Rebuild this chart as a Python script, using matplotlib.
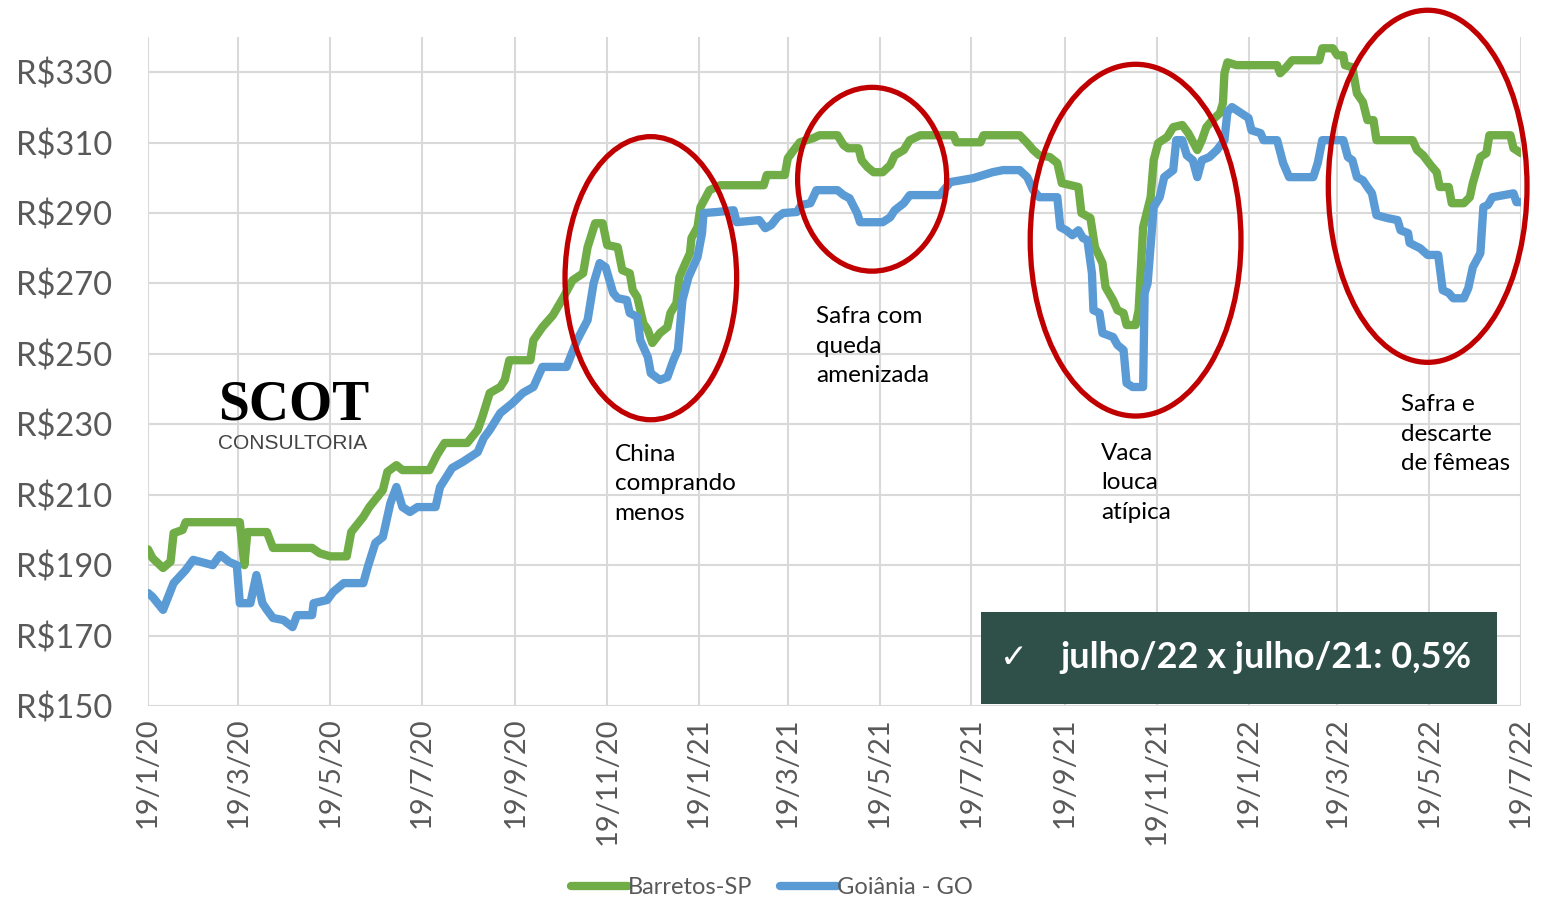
import numpy as np
import pandas as pd
import matplotlib
matplotlib.use("Agg")
from matplotlib import pyplot as plt
from matplotlib.patches import Ellipse, Rectangle
import matplotlib.dates as mdates

plt.rcParams['font.family'] = ['Lato', 'DejaVu Sans']

start = pd.Timestamp('2020-01-19')

green_days = [0, 3, 10, 15, 17, 23, 25, 61, 64, 66, 79, 83, 109, 114, 121, 132, 135, 143, 147,
              156, 159, 165, 169, 187, 192, 197, 212, 219, 222, 227, 234, 237, 240, 254, 256,
              262, 269, 276, 282, 289, 292, 297, 302, 305, 312, 315, 320, 322, 325, 329, 332,
              335, 340, 345, 347, 351, 353, 357, 360, 361, 365, 367, 373, 380, 409, 411, 423,
              425, 429, 433, 442, 446, 458, 462, 465, 472, 474, 478, 482, 488, 493, 496, 502,
              506, 513, 535, 537, 553, 555, 579, 584, 588, 592, 599, 604, 607, 618, 620, 626,
              629, 634, 636, 641, 644, 648, 650, 656, 658, 661, 666, 668, 671, 677, 681, 687,
              691, 697, 700, 703, 707, 712, 714, 715, 717, 723, 750, 752, 756, 760, 778, 780,
              787, 790, 794, 795, 800, 803, 807, 810, 814, 816, 840, 843, 847, 852, 856, 858,
              864, 866, 874, 878, 880, 885, 889, 891, 905, 907, 912]
green_values = [194.5, 192, 189.2, 191, 199.1, 200, 202.2, 202.2, 190, 199.4, 199.4, 194.9, 194.9,
                193.4, 192.5, 192.5, 199.4, 203.7, 206.5, 211.3, 216.5, 218.4, 217, 217, 221.3,
                224.7, 224.7, 228.4, 232, 238.9, 240.6, 242.6, 248.2, 248.2, 253.9, 257.6, 261,
                266.1, 270.9, 272.9, 280.3, 287.1, 287.1, 280.9, 280.3, 273.8, 272.9, 268.1,
                266.1, 258.7, 256.8, 253.1, 255.9, 257.6, 261.6, 264.4, 271.8, 275.8, 278.6,
                282.9, 286, 291.7, 296.5, 297.9, 297.9, 300.8, 300.8, 305.6, 307.9, 310.1, 311.3,
                312.1, 312.1, 309.3, 308.4, 308.4, 305, 303, 301.6, 301.6, 303.6, 306.4, 307.9,
                310.7, 312.1, 312.1, 310.1, 310.1, 312.1, 312.1, 309.9, 307.9, 306.4, 305.9,
                304.2, 298.5, 297.4, 290, 288.6, 280.3, 275.8, 269, 265.3, 262.4, 261.6, 258.2,
                258.2, 262.4, 286, 294.5, 305, 309.9, 311.6, 314.4, 315, 312.7, 307.9, 310.7,
                314.4, 316.4, 318.4, 321.2, 329.7, 332.8, 332, 332, 329.7, 331.4, 333.4, 333.4,
                336.8, 336.8, 334.8, 334.8, 332, 331.4, 324, 321.5, 316.4, 316.4, 310.7, 310.7,
                307.9, 306.4, 303.6, 301.6, 297.4, 297.4, 292.8, 292.8, 294.5, 298.5, 305.9,
                307, 312.1, 312.1, 308.4, 307]

blue_days = [0, 3, 10, 17, 25, 30, 43, 48, 54, 59, 61, 68, 72, 76, 79, 83, 90, 96, 99, 109, 110,
             119, 123, 130, 143, 146, 151, 156, 161, 165, 169, 174, 179, 191, 194, 202, 209, 219,
             223, 227, 234, 242, 249, 256, 262, 278, 285, 292, 296, 300, 304, 309, 312, 318, 320,
             325, 327, 332, 334, 340, 345, 349, 352, 355, 359, 365, 368, 369, 378, 389, 391, 406,
             410, 414, 418, 422, 431, 434, 440, 444, 458, 462, 466, 471, 473, 488, 493, 496, 502,
             506, 526, 533, 548, 555, 561, 568, 579, 584, 588, 592, 604, 606, 610, 614, 618, 621,
             624, 627, 628, 632, 634, 641, 644, 648, 650, 654, 661, 662, 664, 668, 672, 675, 681,
             683, 687, 690, 694, 697, 700, 705, 710, 715, 717, 720, 725, 731, 733, 739, 741, 750,
             754, 758, 774, 777, 780, 794, 797, 800, 803, 807, 810, 813, 816, 823, 830, 832, 837,
             838, 845, 850, 857, 860, 864, 867, 874, 877, 880, 885, 887, 890, 893, 907, 909, 912]
blue_values = [182.1, 181, 177.3, 184.9, 188.6, 191.5, 190, 192.9, 190.9, 190, 179.2, 179.2, 187.2,
               179.2, 177.3, 175, 174.4, 172.4, 175.8, 175.8, 179.2, 180.1, 182.4, 184.9, 184.9,
               189.5, 196.3, 198, 207.6, 212.2, 206.5, 205.1, 206.5, 206.5, 212.2, 217.6, 219.3,
               222.1, 226.1, 228.4, 233.2, 236, 238.9, 240.6, 246.3, 246.3, 253.9, 259.6, 270.1,
               275.8, 274.6, 267.3, 265.8, 265.3, 261.6, 260.5, 253.9, 249.1, 244.5, 242.6, 243.4,
               248.2, 251.1, 265.3, 271.8, 277.5, 284.3, 290, 290.3, 290.8, 287.4, 288, 285.7,
               286.6, 288.8, 290, 290.3, 292.3, 292.8, 296.5, 296.5, 295.1, 294.2, 290, 287.4,
               287.4, 288.8, 290.8, 292.8, 295.1, 295.1, 298.8, 299.9, 300.8, 301.6, 302.2, 302.2,
               300.2, 296.5, 294.5, 294.5, 286, 285.1, 283.7, 285.1, 282.9, 282.3, 272.9, 262.4,
               261.6, 255.9, 254.8, 252.5, 251.1, 241.7, 240.6, 240.6, 267.3, 270.1, 291.7, 294.5,
               300.2, 302.2, 310.7, 310.7, 306.4, 305, 300.2, 305, 305.9, 307.9, 310.7, 318.7,
               320.1, 318.7, 317, 313.5, 312.7, 310.7, 310.7, 304.2, 300.2, 300.2, 304.2, 310.7,
               310.7, 305.9, 305, 300.2, 299.3, 297.4, 295.6, 289.4, 288.6, 288, 285.1, 284.3,
               281.5, 280, 278.1, 278.1, 268.1, 267.3, 265.8, 265.8, 268.7, 274.6, 278.6, 291.7,
               292.3, 294.5, 295.6, 293.1, 293.1]

series_names = ['Barretos-SP', 'Goiânia - GO']
series_colors = ['#70AD47', '#5B9BD5']

y_ticks = [150, 170, 190, 210, 230, 250, 270, 290, 310, 330]

# notes: text, date of left edge, value of top edge
notes = [
    ('China\ncomprando\nmenos', '2020-11-24', 224.5),
    ('Safra com\nqueda\namenizada', '2021-04-07', 263.5),
    ('Vaca\nlouca\natípica', '2021-10-13', 224.8),
    ('Safra e\ndescarte\nde fêmeas', '2022-04-30', 238.5),
]
# circles: centre date, centre value, width in days, height in R$
circles = [
    ('2020-12-18', 271.5, 114, 80.4),
    ('2021-05-14', 299.6, 99, 52.2),
    ('2021-11-05', 282.3, 140, 99.9),
    ('2022-05-18', 297.6, 132, 100.0),
]
box_text = 'julho/22 x julho/21: 0,5%'

green_dates = start + pd.to_timedelta(green_days, unit='D')
blue_dates = start + pd.to_timedelta(blue_days, unit='D')
end = start + pd.Timedelta(days=912)

fig = plt.figure(figsize=(15.43, 9.02), dpi=100)
ax = fig.add_axes([148 / 1543, 196 / 902, 1373 / 1543, 669 / 902])

l1, = ax.plot(green_dates, green_values, color=series_colors[0], lw=6,
              solid_joinstyle='round', solid_capstyle='round', label=series_names[0], zorder=3)
l2, = ax.plot(blue_dates, blue_values, color=series_colors[1], lw=6,
              solid_joinstyle='round', solid_capstyle='round', label=series_names[1], zorder=4)

ax.set_xlim(start, end)
ax.set_ylim(150, 340)
ticks = pd.date_range(start, end, freq=pd.DateOffset(months=2))
ax.set_xticks(ticks)
ax.set_xticklabels([f'{t.day}/{t.month}/{t.year % 100}' for t in ticks], rotation=90,
                   fontsize=21, color='#595959')
ax.set_yticks(y_ticks)
ax.set_yticklabels([f'R${v}' for v in y_ticks], fontsize=23.5, color='#595959')
ax.tick_params(axis='y', length=0, pad=26)
ax.tick_params(axis='x', length=0, pad=8)
ax.grid(True, color='#D9D9D9', lw=1.5)
ax.set_axisbelow(True)
for s in ax.spines.values():
    s.set_visible(False)

for c_date, c_val, w, h in circles:
    e = Ellipse((mdates.date2num(pd.Timestamp(c_date)), c_val), w, h, fill=False,
                ec='#C00000', lw=3.8, clip_on=False, zorder=6)
    ax.add_patch(e)

for txt, d, v in notes:
    ax.text(pd.Timestamp(d), v, txt, fontsize=17.5, color='black', va='top', ha='left',
            linespacing=1.5, zorder=7)

# summary box
fig.patches.append(Rectangle((981 / 1543, 198 / 902), 516 / 1543, 92 / 902,
                             transform=fig.transFigure, facecolor='#2F5049', zorder=8))
fig.text(1000 / 1543, 245 / 902, '\u2713', fontsize=24, color='white', va='center',
         family=['DejaVu Sans'], zorder=9)
fig.text(1060 / 1543, 245 / 902, box_text, fontsize=26, color='white', va='center',
         fontweight='bold', zorder=9)

# logo
fig.text(218 / 1543, 470 / 902, 'SCOT', fontsize=40, family=['Liberation Serif'],
         fontweight='bold', color='black', va='bottom')
fig.text(218 / 1543, 449 / 902, 'CONSULTORIA', fontsize=15, family=['Liberation Sans'],
         color='#444444', va='bottom')

fig.legend(handles=[l1, l2], loc='center', bbox_to_anchor=(772 / 1543, 14 / 902), ncol=2,
           frameon=False, fontsize=17, handlelength=2.4, columnspacing=1.2, handletextpad=0.0,
           labelcolor='#595959')

fig.savefig('out.png', dpi=100)
